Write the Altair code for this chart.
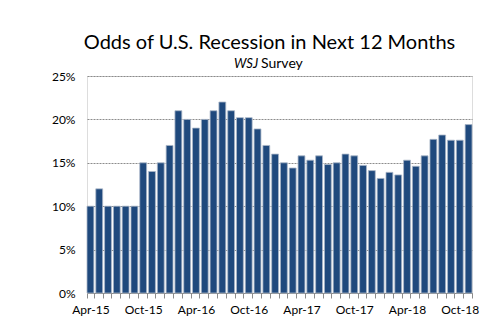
import altair as alt
import pandas as pd

months = ["Jan", "Feb", "Mar", "Apr", "May", "Jun", "Jul", "Aug", "Sep", "Oct", "Nov", "Dec"]
years = ["15", "16", "17", "18"]
all_months = [f"{m}-{y}" for y in years for m in months]
categories = all_months[3:3 + 44]  # Apr-15 .. Nov-18

odds = [10, 12, 10, 10, 10, 10, 15, 14, 15, 17,
        21, 20, 19, 20, 21, 22, 21, 20.2, 20.2, 18.9,
        17, 16, 15, 14.4, 15.8, 15.3, 15.8, 14.8, 15, 16,
        15.8, 14.7, 14.1, 13.2, 13.9, 13.6, 15.3, 14.6, 15.8, 17.7,
        18.2, 17.6, 17.6, 19.4]

y_ticks = [0, 5, 10, 15, 20, 25]

title_text = "Odds of U.S. Recession in Next 12 Months"
sub_italic = "WSJ"
sub_normal = "Survey"

df = pd.DataFrame({"month": categories, "odds": odds})

FONT = "Lato"

bars = alt.Chart(df).mark_bar(
    color="#1F497D", stroke="#a9b6c8", strokeWidth=0.8
).encode(
    x=alt.X("month:N", sort=None,
            scale=alt.Scale(paddingInner=0.22, paddingOuter=0),
            axis=alt.Axis(
                title=None, labelAngle=0, labelOverlap=False,
                labelExpr="(slice(datum.label,0,3)=='Apr' || slice(datum.label,0,3)=='Oct') ? datum.label : ''",
                tickBand="extent", tickSize=5, tickColor="#8c8c8c",
                domainColor="#8c8c8c", labelPadding=6,
                labelFont=FONT, labelFontSize=12, labelColor="#000000",
                grid=False)),
    y=alt.Y("odds:Q",
            scale=alt.Scale(domain=[0, 25], nice=False),
            axis=alt.Axis(
                title=None, values=y_ticks, labelExpr="datum.value + '%'",
                domain=False, ticks=False, labelPadding=12,
                grid=True, gridColor="#8c8c8c", gridDash=[2, 1], gridWidth=1,
                labelFont=FONT, labelFontSize=12, labelColor="#000000")),
)

sub1 = alt.Chart(pd.DataFrame({"t": [sub_italic]})).mark_text(
    font=FONT, fontSize=13, fontStyle="italic", align="left", baseline="alphabetic", color="#000000"
).encode(text="t:N", x=alt.value(147), y=alt.value(-8))

sub2 = alt.Chart(pd.DataFrame({"t": [sub_normal]})).mark_text(
    font=FONT, fontSize=14, align="left", baseline="alphabetic", color="#000000"
).encode(text="t:N", x=alt.value(174), y=alt.value(-8))

chart = alt.layer(bars, sub1, sub2).properties(
    width=385, height=217,
    title=alt.TitleParams(title_text, font=FONT, fontSize=20, fontWeight="normal",
                          anchor="middle", frame="group", dx=-10, offset=4, color="#000000"),
    autosize=alt.AutoSizeParams(type="none"),
    padding={"left": 87, "top": 76, "right": 29, "bottom": 31},
).configure_view(stroke=None).configure(background="white")

chart.save("out.html", embed_options={"renderer": "svg", "actions": False})
